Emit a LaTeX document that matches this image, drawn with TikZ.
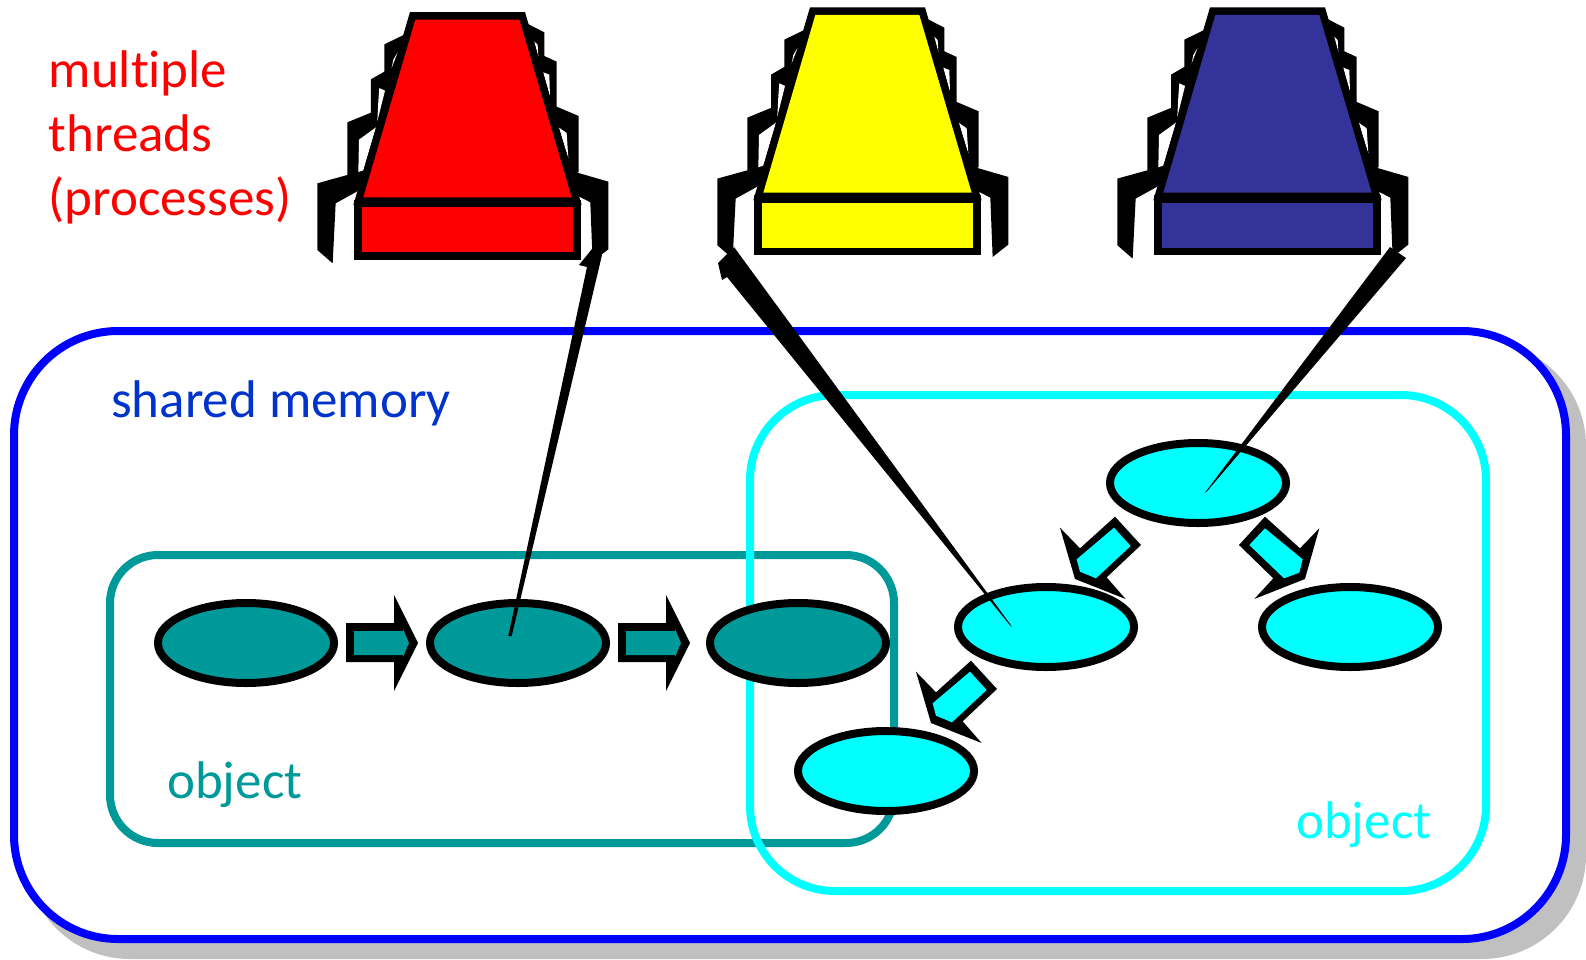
\documentclass[tikz,border=0pt]{standalone}
\usepackage{fontspec}
\setmainfont[RawFeature={-liga;-clig}]{Carlito}
\usetikzlibrary{shapes.geometric}
\definecolor{tealc}{HTML}{009999}
\definecolor{cyanc}{HTML}{00FFFF}
\definecolor{memblue}{HTML}{0000FF}
\definecolor{memtext}{HTML}{0033CC}
\definecolor{threadblue}{HTML}{333399}
\definecolor{threadyellow}{HTML}{FFFF00}
\definecolor{threadred}{HTML}{FF0000}
\definecolor{shadowc}{HTML}{C0C0C0}
\tikzset{
  memnode/.style={ellipse,draw=black,line width=8pt,minimum width=176pt,minimum height=80pt,inner sep=0pt,fill=#1},
  lbl/.style={anchor=base west,inner sep=0pt,font=\fontsize{53}{53}\selectfont,text=#1},
  wedge/.style={fill=black,draw=none},
}
% thread figure, drawn in coordinates of a 3x crop
\newcommand{\threadfig}[3]{%
\begin{scope}[shift={(#1,#2)},x=0.3333pt,y=-0.3333pt]
  \fill[black] (315,103)--(253,133)--(253,215)--(213,238)--(213,338)--(142,367)--(142,525)--(52,550)--(52,750)--(98,790)--(107,610)--(170,575)--(300,400)--cycle;
  \fill[black] (680,70)--(733,97)--(733,168)--(770,185)--(770,320)--(836,348)--(836,515)--(832,518)--(925,545)--(925,748)--(878,785)--(871,607)--(838,590)--(700,300)--cycle;
  \fill[white] (293,157)--(275,204)--(280,179)--cycle;
  \fill[white] (238,264)--(255,272)--(232,364)--(235,304)--cycle;
  \fill[white] (177,419)--(228,382)--(190,511)--(175,516)--cycle;
  \fill[white] (703,124)--(713,134)--(715,169)--cycle;
  \fill[white] (730,217)--(748,224)--(750,289)--cycle;
  \fill[white] (776,382)--(800,399)--(805,474)--cycle;
  \fill[black] (330,36)--(675,36)--(845,615)--(160,615)--cycle;
  \fill[black] (162,600) rectangle (843,780);
  \fill[#3] (346,59)--(658,59)--(815,592)--(190,592)--cycle;
  \fill[#3] (186,622) rectangle (820,757);
\end{scope}}
% block arrow pointing right
\newcommand{\hblock}[1]{%
\begin{scope}[shift={(#1,0)}]
  \fill[black] (346,623)--(394,623)--(394,595)--(418,643)--(394,691)--(394,662)--(346,662)--cycle;
  \fill[tealc] (354,631)--(403,631)--(403,629)--(409,643)--(403,657)--(403,655)--(354,655)--cycle;
\end{scope}}
% diagonal block arrow towards lower left
\newcommand{\dblockL}[2]{%
\begin{scope}[shift={(#1,#2)},x=0.3333pt,y=-0.3333pt]
  \fill[black] (645,50)--(723,135)--(620,232)--(677,297)--(525,237)--(480,83)--(540,145)--cycle;
  \fill[cyanc] (642,83)--(692,138)--(588,235)--(540,215)--(530,178)--cycle;
\end{scope}}
\begin{document}
\begin{tikzpicture}[x=1pt,y=-1pt]
\useasboundingbox (0,0) rectangle (1586,959);
% shared memory
\fill[shadowc,rounded corners=104pt] (26,342) rectangle (1586,959);
\draw[memblue,line width=8pt,fill=white,rounded corners=104pt] (14,331) rectangle (1566,939);
\node[lbl=memtext] (tmem) at (111,417) {shared memory};
% objects
\draw[tealc,line width=8pt,rounded corners=48pt] (110,555) rectangle (894,843);
\draw[cyanc,line width=8pt,rounded corners=85pt] (750,395) rectangle (1486,891);
\node[lbl=tealc] (tobj1) at (167,798) {object};
\node[lbl=cyanc] (tobj2) at (1296,838) {object};
% label
\node[lbl=threadred] (t1) at (48.5,87) {multiple};
\node[lbl=threadred] (t2) at (48.5,151) {threads};
\node[lbl=threadred] (t3) at (48.5,215) {(processes)};
% threads
\threadfig{300}{0}{threadred}
\threadfig{700}{-4.7}{threadyellow}
\threadfig{1100}{-4.7}{threadblue}
% list nodes
\node[memnode=tealc] (a1) at (246,643) {};
\node[memnode=tealc] (a2) at (518,643) {};
\node[memnode=tealc] (a3) at (798,643) {};
\hblock{0}
\hblock{272}
% tree nodes
\node[memnode=cyanc] (b1) at (1198,483) {};
\node[memnode=cyanc] (b2) at (1046,627) {};
\node[memnode=cyanc] (b3) at (1350,627) {};
\node[memnode=cyanc] (b4) at (886,771) {};
\dblockL{900}{500}
\dblockL{756}{644}
\begin{scope}[shift={(900,500)},x=0.3333pt,y=-0.3333pt]
  \fill[black] (1095,50)--(1017,135)--(1120,235)--(1063,297)--(1215,237)--(1258,85)--(1200,145)--cycle;
  \fill[cyanc] (1095,85)--(1048,135)--(1152,235)--(1198,218)--(1208,178)--cycle;
\end{scope}
% pointers
\coordinate (pA) at (510,636);
\coordinate (pB) at (1011,626);
\coordinate (pC) at (1206,492);
\fill[wedge] (592,249)--(602,255)--([xshift=1.7pt]pA)--([xshift=-1.7pt]pA)--(587,267)--(579,265)--cycle;
\fill[wedge] (734,247)--(718,263)--(722,280)--(727,277)--([shift={(-1.3pt,1.1pt)}]pB)--([shift={(1.3pt,-1.1pt)}]pB)--cycle;
\fill[wedge] (1390,247)--(1406,258)--([shift={(1.4pt,1.2pt)}]pC)--([shift={(-1.4pt,-1.2pt)}]pC)--cycle;
\end{tikzpicture}
\end{document}
